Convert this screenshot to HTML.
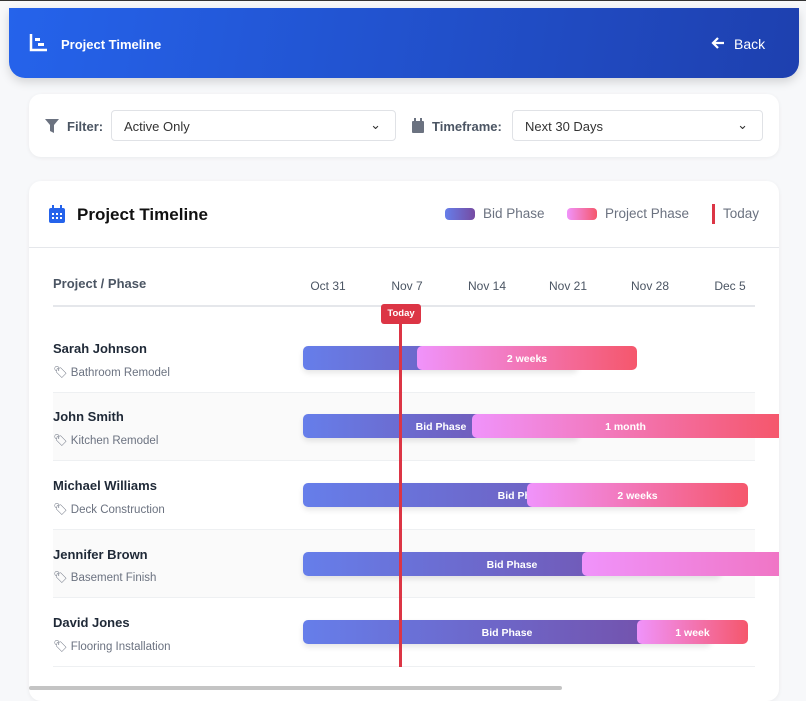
<!DOCTYPE html>
<html><head><style>
*{box-sizing:border-box;margin:0;padding:0}
body{width:806px;height:691px;overflow:hidden;background:#f7f8fa;font-family:"Liberation Sans",sans-serif;position:relative;color:#1f2937}
.abs{position:absolute}
.hdr{left:9px;top:8px;width:790px;height:70px;background:linear-gradient(100deg,#2563eb,#1e40af);border-radius:0 0 16px 16px;box-shadow:0 4px 10px rgba(0,0,0,.15)}
.card{background:#fff;border-radius:12px;box-shadow:0 1px 4px rgba(0,0,0,.06)}
.sel{border:1px solid #e0e2e6;border-radius:4px;height:31px;font-size:13px;padding:8px 12px;color:#333}
.lbl{font-size:13px;font-weight:bold;color:#4b5563}
.row{left:53px;width:702px;border-bottom:1px solid #eef0f2}
.name{font-size:13px;font-weight:bold;color:#1f2937}
.sub{font-size:11.5px;color:#6b7280}
.bid{height:24px;border-radius:5px;background:linear-gradient(90deg,#667eea,#764ba2);color:#fff;font-size:10.5px;font-weight:bold;text-align:center;line-height:26px;box-shadow:0 3px 6px rgba(0,0,0,.1)}
.pj{height:24px;border-radius:5px;background:linear-gradient(90deg,#f093fb,#f5576c);color:#fff;font-size:10.5px;font-weight:bold;text-align:center;line-height:26px}
.tk{top:279px;font-size:12px;color:#4b5563;width:60px;text-align:center}
</style></head><body>
<div class="abs" style="left:0;top:0;width:806px;height:1px;background:#333"></div>
<div class="abs hdr"></div>
<svg class="abs" style="left:29px;top:33px" width="20" height="20"><path d="M2 1v16h16" stroke="#fff" stroke-width="2.5" fill="none"/><rect x="6" y="5" width="5" height="3" fill="#fff"/><rect x="9" y="10" width="6" height="3" fill="#fff"/></svg>
<div class="abs" style="left:61px;top:37px;color:#fff;font-size:13px;font-weight:bold">Project Timeline</div>
<svg class="abs" style="left:711px;top:36px" width="14" height="14"><path d="M13 7H2M7 2L2 7l5 5" stroke="#fff" stroke-width="2.2" fill="none"/></svg>
<div class="abs" style="left:734px;top:36px;color:#fff;font-size:14px">Back</div>
<div class="abs card" style="left:29px;top:94px;width:750px;height:63px"></div>
<svg class="abs" style="left:45px;top:119px" width="14" height="14"><path d="M0 0h14L9 6v8L5 12V6z" fill="#6b7280"/></svg>
<div class="abs lbl" style="left:67px;top:119px">Filter:</div>
<div class="abs sel" style="left:111px;top:110px;width:285px">Active Only<span style="position:absolute;right:14px;top:6px">⌄</span></div>
<svg class="abs" style="left:412px;top:118px" width="12" height="15"><rect x="0" y="3" width="12" height="12" rx="1" fill="#6b7280"/><rect x="2" y="0" width="2" height="4" fill="#6b7280"/><rect x="8" y="0" width="2" height="4" fill="#6b7280"/></svg>
<div class="abs lbl" style="left:432px;top:119px">Timeframe:</div>
<div class="abs sel" style="left:512px;top:110px;width:251px">Next 30 Days<span style="position:absolute;right:14px;top:6px">⌄</span></div>
<div class="abs card" style="left:29px;top:181px;width:750px;height:520px;overflow:hidden">
<div class="abs" style="left:0;top:66px;width:750px;height:1px;background:#e5e7eb"></div>
</div>
<svg class="abs" style="left:49px;top:205px" width="16" height="18"><rect x="0" y="3" width="16" height="15" rx="2" fill="#2563eb"/><rect x="3" y="0" width="2" height="5" fill="#2563eb"/><rect x="11" y="0" width="2" height="5" fill="#2563eb"/><g fill="#fff"><rect x="3" y="8" width="2" height="2"/><rect x="7" y="8" width="2" height="2"/><rect x="11" y="8" width="2" height="2"/><rect x="3" y="12" width="2" height="2"/><rect x="7" y="12" width="2" height="2"/><rect x="11" y="12" width="2" height="2"/></g></svg>
<div class="abs" style="left:77px;top:205px;font-size:17px;font-weight:bold;color:#111">Project Timeline</div>
<div class="abs" style="left:445px;top:208px;width:30px;height:12px;border-radius:4px;background:linear-gradient(90deg,#667eea,#764ba2)"></div>
<div class="abs" style="left:483px;top:206px;font-size:13.5px;color:#6b7280">Bid Phase</div>
<div class="abs" style="left:567px;top:208px;width:30px;height:12px;border-radius:4px;background:linear-gradient(90deg,#f093fb,#f5576c)"></div>
<div class="abs" style="left:605px;top:206px;font-size:13.5px;color:#6b7280">Project Phase</div>
<div class="abs" style="left:712px;top:204px;width:3px;height:20px;background:#dc3545"></div>
<div class="abs" style="left:723px;top:206px;font-size:13.5px;color:#6b7280">Today</div>
<div class="abs" style="left:53px;top:276px;font-size:13px;font-weight:bold;color:#4b5563">Project / Phase</div>
<div class="abs tk" style="left:298px">Oct 31</div>
<div class="abs tk" style="left:377px">Nov 7</div>
<div class="abs tk" style="left:457px">Nov 14</div>
<div class="abs tk" style="left:538px">Nov 21</div>
<div class="abs tk" style="left:620px">Nov 28</div>
<div class="abs tk" style="left:700px">Dec 5</div>
<div class="abs" style="left:53px;top:305px;width:702px;height:2px;background:#e5e7eb"></div>
<div class="abs row" style="top:324px;height:69px"></div>
<div class="abs row" style="top:393px;height:68px;background:#fafafa"></div>
<div class="abs row" style="top:461px;height:69px"></div>
<div class="abs row" style="top:530px;height:68px;background:#fafafa"></div>
<div class="abs row" style="top:598px;height:69px"></div>
<div class="abs name" style="left:53px;top:341px">Sarah Johnson</div><div class="abs sub" style="left:53px;top:365px">🏷 Bathroom Remodel</div>
<div class="abs name" style="left:53px;top:409px">John Smith</div><div class="abs sub" style="left:53px;top:433px">🏷 Kitchen Remodel</div>
<div class="abs name" style="left:53px;top:478px">Michael Williams</div><div class="abs sub" style="left:53px;top:502px">🏷 Deck Construction</div>
<div class="abs name" style="left:53px;top:547px">Jennifer Brown</div><div class="abs sub" style="left:53px;top:570px">🏷 Basement Finish</div>
<div class="abs name" style="left:53px;top:615px">David Jones</div><div class="abs sub" style="left:53px;top:639px">🏷 Flooring Installation</div>
<div class="abs bid" style="left:303px;top:346px;width:275px"></div>
<div class="abs pj" style="left:417px;top:346px;width:220px">2 weeks</div>
<div class="abs bid" style="left:303px;top:414px;width:276px">Bid Phase</div>
<div class="abs pj" style="left:472px;top:414px;width:307px;border-radius:5px 0 0 5px">1 month</div>
<div class="abs bid" style="left:303px;top:483px;width:440px">Bid Phase</div>
<div class="abs pj" style="left:527px;top:483px;width:221px">2 weeks</div>
<div class="abs bid" style="left:303px;top:552px;width:418px">Bid Phase</div>
<div class="abs pj" style="left:582px;top:552px;width:197px;border-radius:5px 0 0 5px;background:linear-gradient(90deg,#f093fb,#f06ab0 140%)"></div>
<div class="abs bid" style="left:303px;top:620px;width:408px">Bid Phase</div>
<div class="abs pj" style="left:637px;top:620px;width:111px">1 week</div>
<div class="abs" style="left:399px;top:320px;width:3px;height:347px;background:#dc3545"></div>
<div class="abs" style="left:381px;top:304px;width:40px;height:20px;background:#dc3545;border-radius:3px;color:#fff;font-size:9.5px;font-weight:bold;text-align:center;line-height:20px">Today</div>
<div class="abs" style="left:29px;top:686px;width:533px;height:4px;background:#c4c4c4;border-radius:2px"></div>
</body></html>
